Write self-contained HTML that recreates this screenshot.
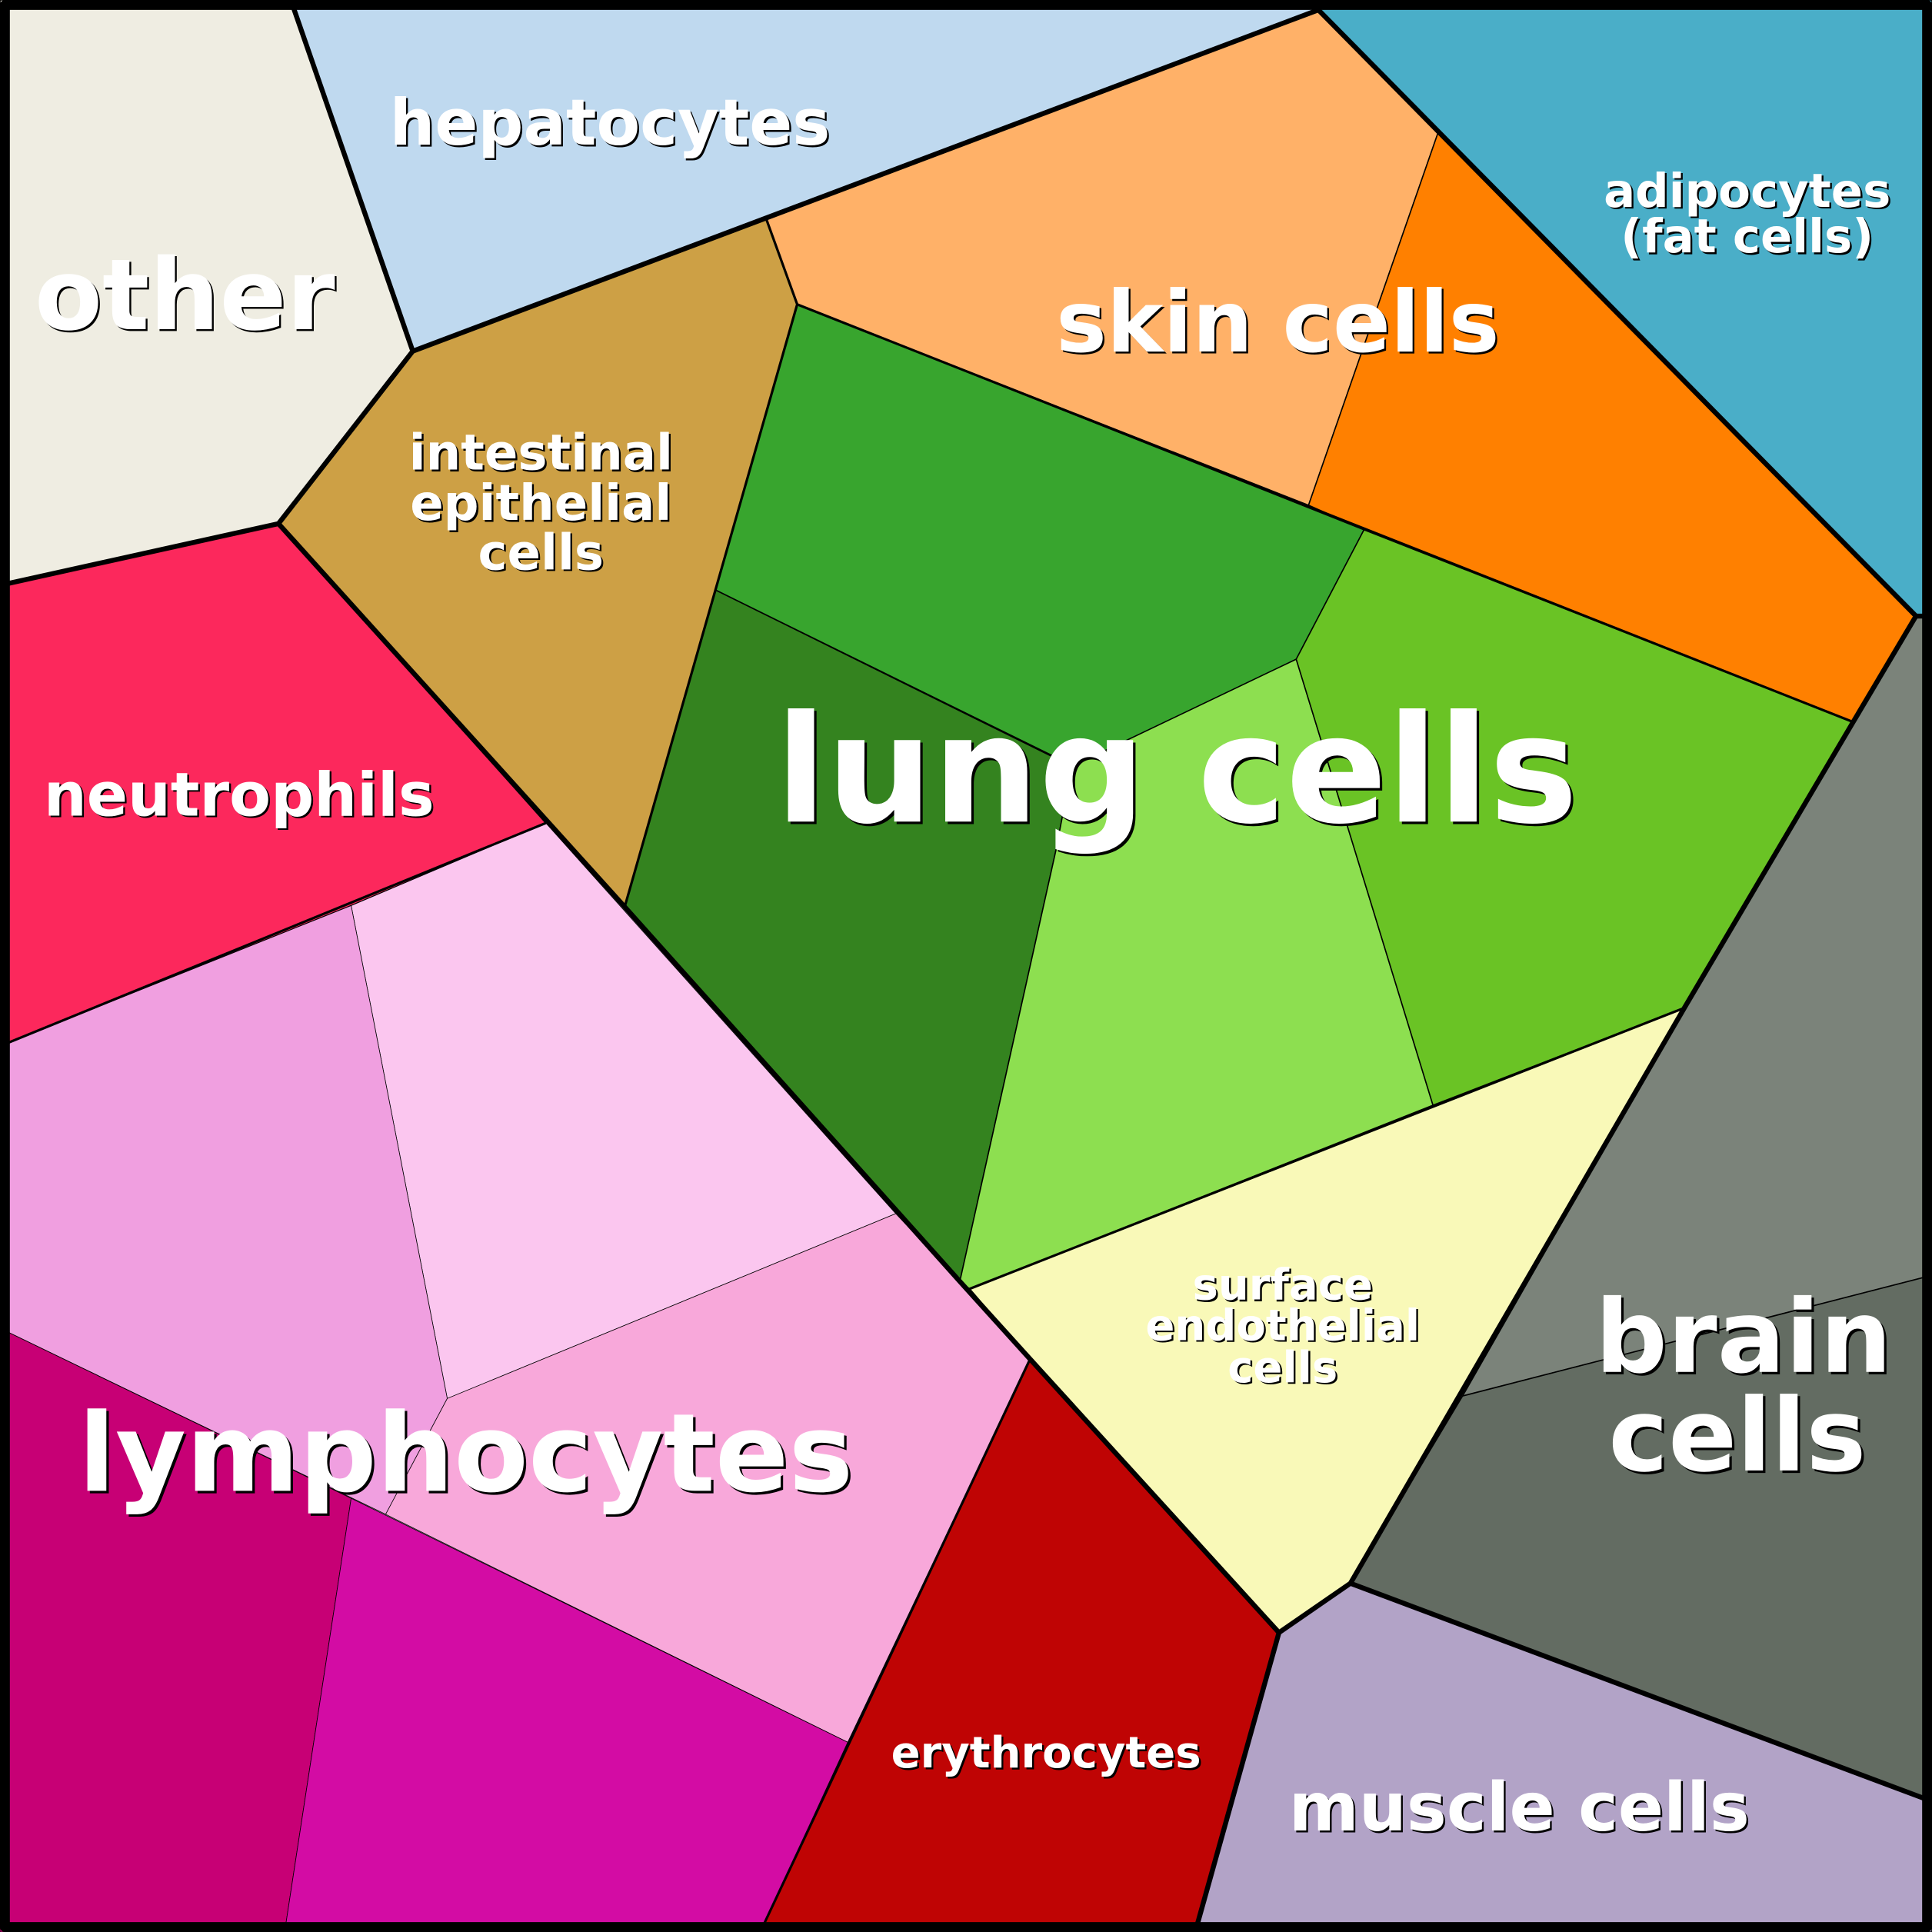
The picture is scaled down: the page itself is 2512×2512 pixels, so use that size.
<!DOCTYPE html>
<html><head><meta charset="utf-8"><style>
html,body{margin:0;padding:0;background:#fff}
svg{display:block}
text{font-family:"DejaVu Sans","Liberation Sans",sans-serif;font-weight:bold;text-anchor:middle;dominant-baseline:central}
.s{fill:#000}
.w{fill:#fff}
</style></head><body>
<svg width="2512" height="2512" viewBox="0 0 1568 1568" xmlns="http://www.w3.org/2000/svg">
<g stroke="#000" stroke-width="1" stroke-linejoin="round">
<polygon fill="#efede2" points="0,0 236,0 335,285 226,425 0,475"/>
<polygon fill="#bfd9ef" points="236,0 1080,0 1070,8 622,178 335,285"/>
<polygon fill="#4aaec8" points="1070,0 1568,0 1568,500 1555,500 1070,8"/>
<polygon fill="#ffb168" points="1070,8 1167,108 1062,410 647,247 622,178"/>
<polygon fill="#ff8000" points="1167,108 1555,500 1504,586 1107,430 1062,410"/>
<polygon fill="#cda045" points="335,285 622,178 647,247 581,479 507,736 226,425"/>
<polygon fill="#38a52e" points="647,247 1107,430 1052,535 878,625 581,479"/>
<polygon fill="#34831f" points="581,479 870,622 857,690 779,1040 507,736"/>
<polygon fill="#8ddf50" points="870,622 1052,535 1163,897 787,1046 779,1040 857,690"/>
<polygon fill="#6ac325" points="1107,430 1504,586 1367,818 1163,897 1052,535"/>
<polygon fill="#f9f9b8" points="787,1046 1367,818 1096,1285 1038,1325 836,1103"/>
<polygon fill="#7b837a" points="1555,500 1568,500 1568,1035 1187,1133 1367,818 1504,586"/>
<polygon fill="#636c62" points="1187,1133 1568,1035 1568,1462 1096,1285"/>
<polygon fill="#b2a3c7" points="1096,1285 1568,1462 1568,1568 970,1568 1038,1325"/>
<polygon fill="#bf0404" points="836,1103 1038,1325 970,1568 617,1568 688,1414"/>
<polygon fill="#fc285c" points="0,475 226,425 443,668 285,735 0,849"/>
<polygon fill="#fbc6ef" points="285,735 443,668 727,985 363,1135" stroke-width="0.5"/>
<polygon fill="#f09fe0" points="0,849 285,735 363,1135 313,1229 0,1078" stroke-width="0.5"/>
<polygon fill="#f8a8da" points="363,1135 727,985 779,1040 836,1103 688,1414 313,1229" stroke-width="0.5"/>
<polygon fill="#c70075" points="0,1078 285,1216 231,1568 0,1568" stroke-width="0.5"/>
<polygon fill="#d30ca4" points="285,1216 688,1414 617,1568 231,1568" stroke-width="0.5"/>
</g>
<g fill="none" stroke="#000" stroke-width="4" stroke-linejoin="round">
<polyline points="236,0 335,285 226,425 0,475"/>
<polyline points="335,285 1070,8 1555,500 1504,586 1367,818 1096,1285 1038,1325 970,1568"/>
<polyline points="1555,500 1568,500"/>
<polyline points="226,425 507,736 779,1040 836,1103 1038,1325"/>
<polyline points="1096,1285 1568,1462"/>
<polyline points="443,668 0,849" stroke-width="2"/>
<polyline points="836,1103 617,1568" stroke-width="2"/>
<polyline points="787,1046 1367,818" stroke-width="2"/>
<polyline points="622,178 647,247 507,736" stroke-width="2"/>
<polyline points="647,247 1504,586" stroke-width="2"/>
<rect x="4" y="4" width="1560" height="1560" stroke-width="8"/>
</g>
<g>
<text class="s" x="151.5" y="241.5" font-size="80">other</text><text class="w" x="150" y="240" font-size="80">other</text>
<text class="s" x="496.5" y="101.5" font-size="51.5">hepatocytes</text><text class="w" x="495" y="100" font-size="51.5">hepatocytes</text>
<text class="s" x="1419.5" y="156.5" font-size="38">adipocytes</text><text class="w" x="1418" y="155" font-size="38">adipocytes</text>
<text class="s" x="1419.5" y="193.5" font-size="38">(fat cells)</text><text class="w" x="1418" y="192" font-size="38">(fat cells)</text>
<text class="s" x="1038.5" y="263.5" font-size="69">skin cells</text><text class="w" x="1037" y="262" font-size="69">skin cells</text>
<text class="s" x="440.5" y="369.5" font-size="40">intestinal</text><text class="w" x="439" y="368" font-size="40">intestinal</text>
<text class="s" x="440.5" y="410.5" font-size="40">epithelial</text><text class="w" x="439" y="409" font-size="40">epithelial</text>
<text class="s" x="440.5" y="450.5" font-size="40">cells</text><text class="w" x="439" y="449" font-size="40">cells</text>
<text class="s" x="957" y="627" font-size="121">lung cells</text><text class="w" x="955" y="625" font-size="121">lung cells</text>
<text class="s" x="195.5" y="646.5" font-size="49">neutrophils</text><text class="w" x="194" y="645" font-size="49">neutrophils</text>
<text class="s" x="380" y="1182" font-size="88">lymphocytes</text><text class="w" x="378" y="1180" font-size="88">lymphocytes</text>
<text class="s" x="1042.5" y="1044.5" font-size="35">surface</text><text class="w" x="1041" y="1043" font-size="35">surface</text>
<text class="s" x="1042.5" y="1077.5" font-size="35">endothelial</text><text class="w" x="1041" y="1076" font-size="35">endothelial</text>
<text class="s" x="1042.5" y="1111.5" font-size="35">cells</text><text class="w" x="1041" y="1110" font-size="35">cells</text>
<text class="s" x="1417" y="1087" font-size="82">brain</text><text class="w" x="1415" y="1085" font-size="82">brain</text>
<text class="s" x="1412" y="1167" font-size="82">cells</text><text class="w" x="1410" y="1165" font-size="82">cells</text>
<text class="s" x="850.5" y="1424.5" font-size="35">erythrocytes</text><text class="w" x="849" y="1423" font-size="35">erythrocytes</text>
<text class="s" x="1234.5" y="1468.5" font-size="54.5">muscle cells</text><text class="w" x="1233" y="1467" font-size="54.5">muscle cells</text>
</g>
</svg>
</body></html>
